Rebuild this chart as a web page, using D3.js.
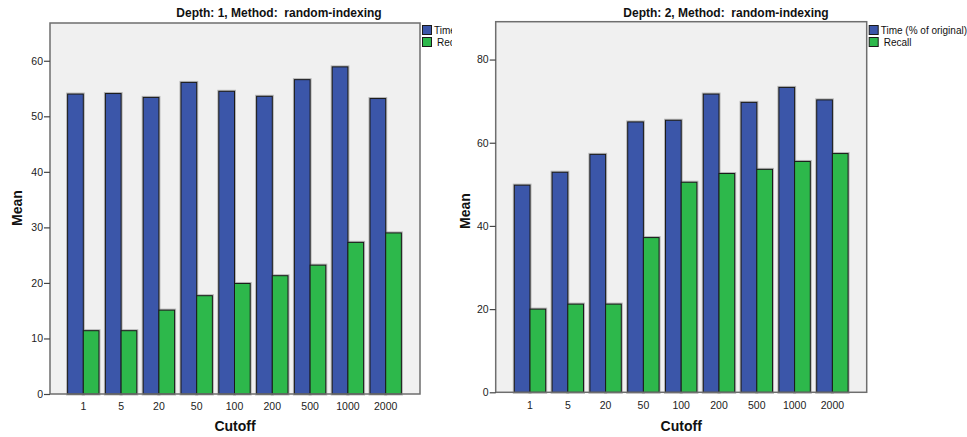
<!DOCTYPE html>
<html>
<head>
<meta charset="utf-8">
<script src="https://cdn.jsdelivr.net/npm/d3@7"></script>
<style>
  html, body { margin: 0; padding: 0; background: #ffffff; }
  svg { display: block; font-family: "Liberation Sans", Arial, sans-serif; }
</style>
</head>
<body>
<svg id="chart" width="967" height="437"></svg>
<script>
// Cutoff categories shared by both panels
const cutoffs = ["1", "5", "20", "50", "100", "200", "500", "1000", "2000"];

// Depth 1 means
const depth1Time = [54.0, 54.1, 53.4, 56.1, 54.5, 53.6, 56.6, 58.9, 53.2];
const depth1Recall = [11.4, 11.4, 15.1, 17.7, 19.9, 21.3, 23.2, 27.3, 29.0];

// Depth 2 means
const depth2Time = [49.8, 52.9, 57.2, 65.0, 65.4, 71.7, 69.7, 73.3, 70.3];
const depth2Recall = [20.0, 21.2, 21.2, 37.2, 50.5, 52.6, 53.6, 55.5, 57.4];

// Axis ticks
const depth1Ticks = [0, 10, 20, 30, 40, 50, 60];
const depth2Ticks = [0, 20, 40, 60, 80];

const seriesNames = ["Time (% of original)", "Recall"];
const seriesColors = ["#3b56a9", "#2db84b"];

const svg = d3.select("#chart");

function drawPanel(cfg) {
  const g = svg.append("g");
  if (cfg.clipRight) {
    const id = "clip" + cfg.key;
    svg.append("clipPath").attr("id", id)
      .append("rect").attr("x", 0).attr("y", 0)
      .attr("width", cfg.clipRight).attr("height", 437);
    g.attr("clip-path", `url(#${id})`);
  }

  const y = d3.scaleLinear().domain([0, cfg.yMax]).range([cfg.bottom, cfg.top]);
  const x = d3.scaleBand().domain(cutoffs)
    .range(cfg.bandRange).paddingInner(0.17).paddingOuter(0.085);

  // plot background
  g.append("rect")
    .attr("x", cfg.left).attr("y", cfg.top)
    .attr("width", cfg.right - cfg.left).attr("height", cfg.bottom - cfg.top)
    .attr("fill", "#f0f0f0");

  const rows = cutoffs.map((c, i) => ({ c, v: [cfg.time[i], cfg.recall[i]] }));
  const half = x.bandwidth() / 2;

  const bars = [];
  rows.forEach(r => r.v.forEach((v, s) => bars.push({ c: r.c, v, s })));

  const barG = g.append("g");
  // soft halo behind each bar
  barG.selectAll("rect.halo").data(bars).join("rect")
    .attr("class", "halo")
    .attr("x", d => x(d.c) + d.s * half)
    .attr("y", d => y(d.v))
    .attr("width", half)
    .attr("height", d => y(0) - y(d.v))
    .attr("fill", "none")
    .attr("stroke", "#9a9a9a")
    .attr("stroke-opacity", 0.7)
    .attr("stroke-width", 3);
  barG.selectAll("rect.bar").data(bars).join("rect")
    .attr("class", "bar")
    .attr("x", d => x(d.c) + d.s * half)
    .attr("y", d => y(d.v))
    .attr("width", half)
    .attr("height", d => y(0) - y(d.v))
    .attr("fill", d => seriesColors[d.s])
    .attr("stroke", "#1a1a1a")
    .attr("stroke-width", 1);

  // frame
  g.append("rect")
    .attr("x", cfg.left).attr("y", cfg.top)
    .attr("width", cfg.right - cfg.left).attr("height", cfg.bottom - cfg.top)
    .attr("fill", "none").attr("stroke", "#6e6e6e").attr("stroke-width", 1.5);

  // y axis
  const yAxis = d3.axisLeft(y).tickValues(cfg.ticks).tickSize(6).tickPadding(1);
  const ya = g.append("g").attr("transform", `translate(${cfg.left},0)`).call(yAxis);
  ya.select(".domain").remove();
  ya.selectAll(".tick line").attr("stroke", "#444").attr("stroke-width", 1.2);
  ya.selectAll(".tick text").attr("fill", "#222").style("font-size", "10.5px")
    .style("font-family", "'Liberation Sans', Arial, sans-serif");

  // x axis labels
  const xAxis = d3.axisBottom(x).tickSize(0).tickPadding(9);
  const xa = g.append("g").attr("transform", `translate(0,${cfg.bottom})`).call(xAxis);
  xa.select(".domain").remove();
  xa.selectAll(".tick text").attr("fill", "#222").style("font-size", "10.5px")
    .style("font-family", "'Liberation Sans', Arial, sans-serif");

  // title (keeps its double space)
  g.append("text")
    .attr("x", cfg.titleX).attr("y", 17)
    .attr("text-anchor", "middle")
    .style("white-space", "pre")
    .style("font-size", "12px").style("font-weight", "bold").attr("fill", "#111")
    .text(cfg.title);

  // axis titles
  g.append("text")
    .attr("transform", `translate(${cfg.meanX},${cfg.meanY}) rotate(-90)`)
    .attr("text-anchor", "middle")
    .style("font-size", "14px").style("font-weight", "bold").attr("fill", "#111")
    .text("Mean");
  g.append("text")
    .attr("x", (cfg.left + cfg.right) / 2).attr("y", 431)
    .attr("text-anchor", "middle")
    .style("font-size", "14px").style("font-weight", "bold").attr("fill", "#111")
    .text("Cutoff");

  // legend
  const lg = g.append("g").attr("transform", `translate(${cfg.right + 2},25)`);
  seriesNames.forEach((name, i) => {
    lg.append("rect")
      .attr("x", 0.5).attr("y", i * 12 + 0.5)
      .attr("width", 9).attr("height", 9)
      .attr("fill", seriesColors[i]).attr("stroke", "#1a1a1a").attr("stroke-width", 1);
    lg.append("text")
      .attr("x", i === 0 ? 12 : 15).attr("y", i * 12 + 8.5)
      .style("font-size", "10px").attr("fill", "#111")
      .text(name);
  });
}

drawPanel({
  key: "d1", title: "Depth: 1, Method:  random-indexing",
  time: depth1Time, recall: depth1Recall, ticks: depth1Ticks,
  left: 50, right: 420, top: 23, bottom: 394, yMax: 66.8,
  bandRange: [64.4, 404.6], titleX: 279, meanX: 22, meanY: 208,
  clipRight: 452
});

drawPanel({
  key: "d2", title: "Depth: 2, Method:  random-indexing",
  time: depth2Time, recall: depth2Recall, ticks: depth2Ticks,
  left: 495.7, right: 866.7, top: 21.7, bottom: 392.3, yMax: 89.1,
  bandRange: [511.1, 851.3], titleX: 726, meanX: 470, meanY: 211,
  clipRight: null
});
</script>
</body>
</html>
